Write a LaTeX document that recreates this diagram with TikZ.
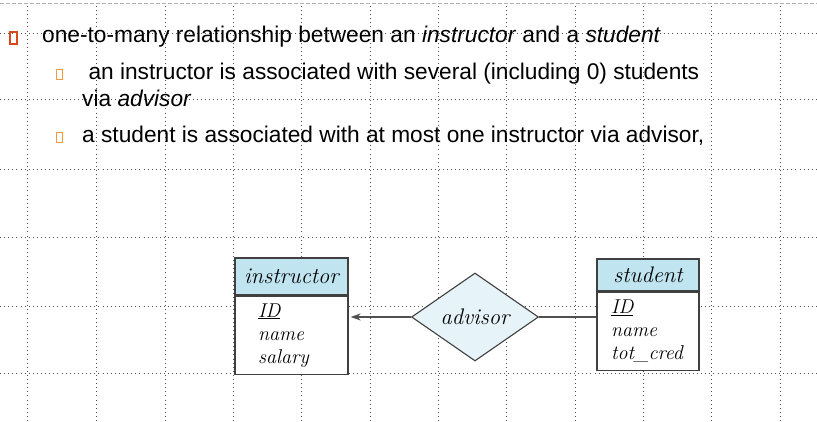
\documentclass[tikz,border=0pt]{standalone}
\usepackage{fontspec}
\newfontfamily\arialf{Liberation Sans}
\usetikzlibrary{shapes.geometric,arrows.meta}
\definecolor{dotc}{HTML}{505050}
\definecolor{dashc}{HTML}{B0B0B0}
\definecolor{bulA}{HTML}{D8481A}
\definecolor{bulB}{HTML}{F59A3C}
\definecolor{hdrc}{HTML}{C0E5F0}
\definecolor{diac}{HTML}{E6F3F8}
\definecolor{edgec}{HTML}{404040}
\definecolor{linec}{HTML}{505050}
\tikzset{
  griddot/.style={dotc, line width=0.9pt, dash pattern=on 0.9pt off 3.2pt},
  topdash/.style={dashc, line width=0.8pt, dash pattern=on 4pt off 2pt},
  txt/.style={anchor=base west, inner sep=0pt, font=\arialf\fontsize{22.7}{27}\selectfont},
  bulletA/.style={draw=bulA, line width=1.8pt, minimum width=7pt, minimum height=12pt, inner sep=0pt},
  bulletB/.style={draw=bulB, line width=1.4pt, minimum width=5.5pt, minimum height=9.5pt, inner sep=0pt},
  hdr/.style={draw=edgec, fill=hdrc, line width=1.3pt, inner sep=0pt, font=\itshape\fontsize{22.5}{24}\selectfont},
  bodybox/.style={draw=edgec, fill=white, line width=1.3pt, inner sep=0pt, align=left, font=\itshape\fontsize{20}{23}\selectfont},
  relbox/.style={diamond, draw=edgec, fill=diac, line width=1.1pt, inner sep=0pt, minimum width=127pt, minimum height=88pt, font=\itshape\fontsize{22.5}{24}\selectfont},
  conn/.style={linec, line width=1.4pt}
}
\begin{document}
\begin{tikzpicture}[x=1pt,y=-1pt]
\useasboundingbox (0,0) rectangle (817,422);
\fill[white] (0,0) rectangle (817,422);
% grid
\draw[topdash] (0,3) -- (817,3);
\foreach \x in {27,96.5,165,233,301.5,370,438,506.5,575,643,711.5,780}
  \draw[griddot] (\x,6) -- (\x,422);
\foreach \y in {33,99,169,237,306,373}
  \draw[griddot] (0,\y) -- (817,\y);
% bullets and text
\node[bulletA] (b1) at (13.5,38) {};
\node[txt] (t1) at (42,43) {one-to-many relationship between an \textit{instructor} and a \textit{student}};
\node[bulletB] (b2) at (59.5,74.5) {};
\node[txt] (t2) at (82,80) {\ an instructor is associated with several (including 0) students};
\node[txt] (t2b) at (82,107) {via \textit{advisor}};
\node[bulletB] (b3) at (59.5,137.5) {};
\node[txt] (t3) at (82,143) {a student is associated with at most one instructor via advisor,};
% ER diagram
\node[hdr, minimum width=113pt, minimum height=37pt] (insth) at (291.5,276.5) {instructor};
\node[bodybox, anchor=north, minimum width=113pt, minimum height=78pt, text width=67pt] (instb) at (insth.south) {\underline{ID}\\name\\salary};
\node[hdr, minimum width=102pt, minimum height=32pt] (studh) at (648,275) {student};
\node[bodybox, anchor=north, minimum width=102pt, minimum height=78pt, text width=74pt] (studb) at (studh.south) {\underline{ID}\\name\\tot\_cred};
\node[relbox] (adv) at (475,317) {advisor};
% connectors
\draw[conn, -{Stealth[length=10pt, width=7pt]}, shorten >=2pt] (adv.west) -- (adv.west -| instb.east);
\draw[conn] (adv.east) -- (adv.east -| studb.west);
\end{tikzpicture}
\end{document}
